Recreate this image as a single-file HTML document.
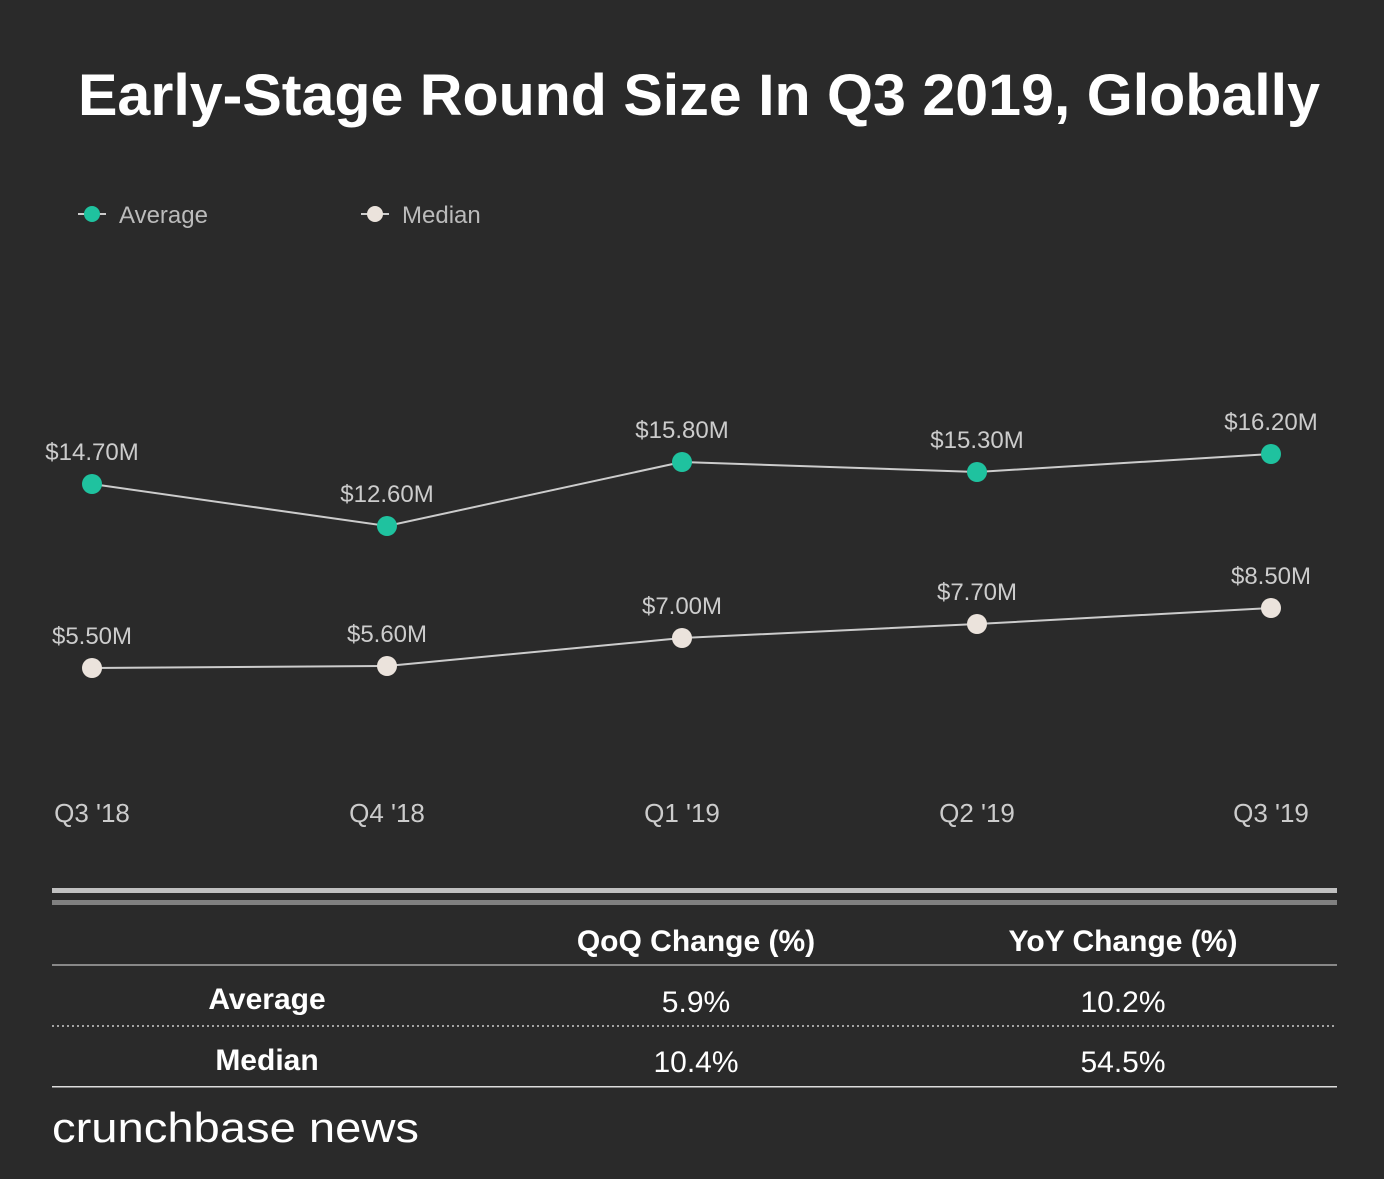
<!DOCTYPE html>
<html><head><meta charset="utf-8"><style>
body{margin:0;background:#2a2a2a;width:1384px;height:1174px;overflow:hidden;font-family:"Liberation Sans",sans-serif;}
</style></head><body>
<svg width="1384" height="1174" xmlns="http://www.w3.org/2000/svg" font-family="Liberation Sans, sans-serif">
<rect width="1384" height="1174" fill="#2a2a2a"/>
<text x="78" y="115" fill="#fff" font-size="58" font-weight="bold" textLength="1242" lengthAdjust="spacingAndGlyphs">Early-Stage Round Size In Q3 2019, Globally</text>
<line x1="78" y1="214" x2="106" y2="214" stroke="#ccc" stroke-width="2"/>
<circle cx="92" cy="214" r="8" fill="#1fc29f"/>
<text x="119" y="223" fill="#bbb" font-size="24">Average</text>
<line x1="361" y1="214" x2="389" y2="214" stroke="#ccc" stroke-width="2"/>
<circle cx="375" cy="214" r="8" fill="#ebe3dc"/>
<text x="402" y="223" fill="#bbb" font-size="24">Median</text>
<polyline points="92,484 387,526 682,462 977,472 1271,454" fill="none" stroke="#ccc" stroke-width="2"/>
<polyline points="92,668 387,666 682,638 977,624 1271,608" fill="none" stroke="#ccc" stroke-width="2"/>
<g fill="#1fc29f"><circle cx="92" cy="484" r="10"/><circle cx="387" cy="526" r="10"/><circle cx="682" cy="462" r="10"/><circle cx="977" cy="472" r="10"/><circle cx="1271" cy="454" r="10"/></g>
<g fill="#ebe3dc"><circle cx="92" cy="668" r="10"/><circle cx="387" cy="666" r="10"/><circle cx="682" cy="638" r="10"/><circle cx="977" cy="624" r="10"/><circle cx="1271" cy="608" r="10"/></g>
<g fill="#ccc" font-size="24" text-anchor="middle">
<text x="92" y="460">$14.70M</text><text x="387" y="502">$12.60M</text><text x="682" y="438">$15.80M</text><text x="977" y="448">$15.30M</text><text x="1271" y="430">$16.20M</text>
<text x="92" y="644">$5.50M</text><text x="387" y="642">$5.60M</text><text x="682" y="614">$7.00M</text><text x="977" y="600">$7.70M</text><text x="1271" y="584">$8.50M</text>
<text x="92" y="822" font-size="26">Q3 '18</text><text x="387" y="822" font-size="26">Q4 '18</text><text x="682" y="822" font-size="26">Q1 '19</text><text x="977" y="822" font-size="26">Q2 '19</text><text x="1271" y="822" font-size="26">Q3 '19</text>
</g>
<rect x="52" y="888" width="1285" height="5" fill="#c0c0c0"/>
<rect x="52" y="900" width="1285" height="5" fill="#808080"/>
<rect x="52" y="964" width="1285" height="2" fill="#888"/>
<line x1="52" y1="1026" x2="1337" y2="1026" stroke="#ccc" stroke-width="1.5" stroke-dasharray="2,3"/>
<rect x="52" y="1086" width="1285" height="1.5" fill="#ddd"/>
<g fill="#fff" font-size="30" text-anchor="middle">
<text x="696" y="951" font-weight="bold">QoQ Change (%)</text>
<text x="1123" y="951" font-weight="bold">YoY Change (%)</text>
<text x="267" y="1009" font-weight="bold">Average</text>
<text x="267" y="1070" font-weight="bold">Median</text>
<text x="696" y="1012">5.9%</text><text x="1123" y="1012">10.2%</text>
<text x="696" y="1072">10.4%</text><text x="1123" y="1072">54.5%</text>
</g>
<text x="52" y="1142" fill="#fff" font-size="42" textLength="367" lengthAdjust="spacingAndGlyphs">crunchbase news</text>
</svg>
</body></html>
